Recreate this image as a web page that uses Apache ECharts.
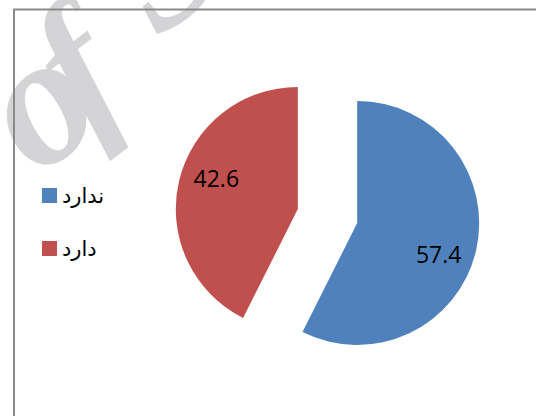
<!DOCTYPE html>
<html>
<head>
<meta charset="utf-8">
<script src="https://cdn.jsdelivr.net/npm/echarts@6/dist/echarts.min.js"></script>
<style>
html,body{margin:0;padding:0;background:#fff;}
#chart{width:536px;height:416px;}
</style>
</head>
<body>
<div id="chart"></div>
<script>
var categories = ['ندارد', 'دارد'];
var values = [57.4, 42.6];
var colors = ['#4F81BD', '#C0504D'];

var chart = echarts.init(document.getElementById('chart'), null, {renderer: 'svg'});

var pieData = categories.map(function (c, i) {
  return {name: c, value: values[i], selected: true, itemStyle: {color: colors[i]}};
});
var labelData = categories.map(function (c, i) {
  return {name: c, value: values[i], selected: true};
});

var wmRot = 0.65;
var wmFill = '#d4d4d6';
var option = {
  animation: false,
  backgroundColor: '#ffffff',
  graphic: [
    {
      type: 'text', x: 36, y: 100, rotation: wmRot, z: -10, silent: true,
      style: {text: 'o', font: 'italic bold 185px "Liberation Serif"', fill: wmFill, align: 'center', verticalAlign: 'middle'}
    },
    {
      type: 'text', x: 75, y: 67, rotation: wmRot, z: -10, silent: true,
      style: {text: 'f', font: 'italic bold 175px "Liberation Serif"', fill: wmFill, align: 'center', verticalAlign: 'middle'}
    },
    {
      type: 'text', x: 160, y: -37, rotation: wmRot, z: -10, silent: true,
      style: {text: 'S', font: 'italic bold 175px "Liberation Serif"', fill: wmFill, align: 'center', verticalAlign: 'middle'}
    },
    {
      type: 'polyline', z: 0, silent: true,
      shape: {points: [[14, 416], [14, 9.5], [536, 9.5]]},
      style: {stroke: '#8a8a8a', lineWidth: 2, fill: null}
    }
  ],
  legend: {
    orient: 'vertical',
    left: 42,
    top: 185,
    padding: 0,
    itemWidth: 15,
    itemHeight: 15,
    itemGap: 32,
    icon: 'rect',
    data: categories,
    textStyle: {fontFamily: 'DejaVu Sans', fontSize: 21, color: '#000'}
  },
  series: [
    {
      type: 'pie',
      center: [327.5, 216],
      radius: [0, 122],
      startAngle: 90,
      clockwise: true,
      selectedMode: 'multiple',
      selectedOffset: 30.5,
      label: {show: false},
      labelLine: {show: false},
      emphasis: {disabled: true},
      data: pieData
    },
    {
      type: 'pie',
      center: [327.5, 216],
      radius: [46, 122],
      startAngle: 84.5,
      clockwise: true,
      silent: true,
      selectedMode: 'multiple',
      selectedOffset: 30.5,
      itemStyle: {color: 'rgba(0,0,0,0)'},
      label: {
        show: true,
        position: 'inside',
        formatter: function (p) { return p.value.toFixed(1); },
        fontFamily: 'Open Sans',
        fontSize: 23,
        color: '#000'
      },
      labelLine: {show: false},
      emphasis: {disabled: true},
      data: labelData
    }
  ]
};
chart.setOption(option);
</script>
</body>
</html>
